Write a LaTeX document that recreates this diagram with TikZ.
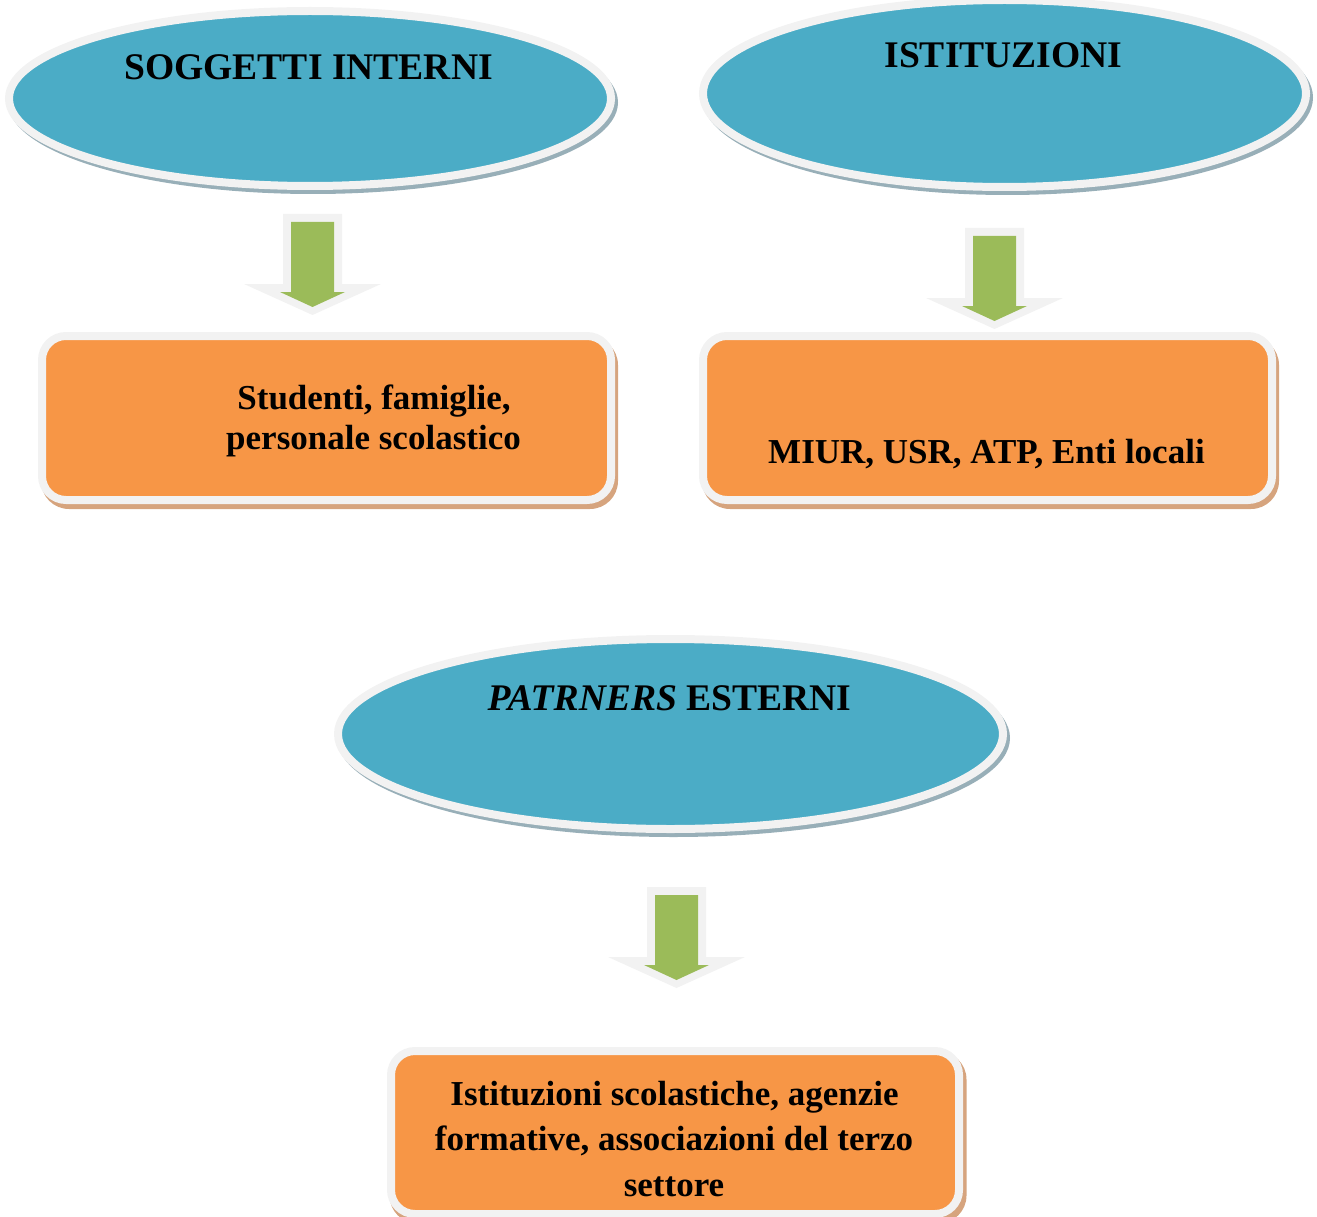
\documentclass[tikz,border=0pt]{standalone}
\usepackage{fontspec}
\setmainfont{Liberation Serif}
\usetikzlibrary{shapes.geometric}
\definecolor{bluec}{HTML}{4BACC6}
\definecolor{orangec}{HTML}{F79646}
\definecolor{greenc}{HTML}{9BBB59}
\definecolor{glowc}{HTML}{F2F2F2}
\definecolor{eshadow}{HTML}{98AFB8}
\definecolor{bshadow}{HTML}{D6A47E}
\tikzset{
 oval/.style={ellipse, fill=bluec, draw=glowc, line width=8pt, inner sep=0pt, outer sep=0pt},
 ovalshadow/.style={ellipse, fill=eshadow, inner sep=0pt, outer sep=0pt},
 box/.style={rectangle, rounded corners=24pt, fill=orangec, draw=glowc, line width=8pt, inner sep=0pt, outer sep=0pt, minimum width=569pt, minimum height=164pt},
 boxshadow/.style={rectangle, rounded corners=28pt, fill=bshadow, inner sep=0pt, outer sep=0pt, minimum width=577pt, minimum height=172pt},
 title/.style={font=\fontsize{37.6}{44}\selectfont\bfseries, inner sep=0pt, anchor=base},
 txt/.style={font=\fontsize{35}{40}\selectfont\bfseries, inner sep=0pt, anchor=base},
 glowarrow/.style={fill=glowc},
 greenarrow/.style={fill=greenc},
}
\newcommand\myblockarrow[1]{%
 \begin{scope}[shift={(#1)}]
 \fill[glowarrow] (-29.5,0) -- (29.5,0) -- (29.5,70) -- (68.5,70) -- (0,101) -- (-68.5,70) -- (-29.5,70) -- cycle;
 \fill[greenarrow] (-21.5,8) -- (21.5,8) -- (21.5,78) -- (32.5,78) -- (0,93) -- (-32.5,78) -- (-21.5,78) -- cycle;
 \end{scope}}
\begin{document}
\begin{tikzpicture}[x=1pt,y=-1pt]
\useasboundingbox (0,0) rectangle (1317,1217);
% ellipses
\node[ovalshadow, minimum width=610pt, minimum height=183pt] (e1s) at (313,102.5) {};
\node[oval, minimum width=602pt, minimum height=175pt] (e1) at (310,98.5) {};
\node[ovalshadow, minimum width=611pt, minimum height=195pt] (e2s) at (1007.5,97.5) {};
\node[oval, minimum width=603pt, minimum height=187pt] (e2) at (1004.5,93.5) {};
\node[ovalshadow, minimum width=673pt, minimum height=198pt] (e3s) at (673.5,738) {};
\node[oval, minimum width=665pt, minimum height=190pt] (e3) at (670.5,734) {};
\node[title] (t1) at (308.5,80) {SOGGETTI INTERNI};
\node[title] (t2) at (1003.5,67.5) {ISTITUZIONI};
\node[title] (t3) at (669.5,710.5) {\textit{PATRNERS} ESTERNI};
% arrows
\coordinate (a1) at (312.5,214);
\coordinate (a2) at (994.5,228);
\coordinate (a3) at (676.5,887);
\myblockarrow{a1}
\myblockarrow{a2}
\myblockarrow{a3}
% boxes
\node[boxshadow] (b1s) at (329.5,423) {};
\node[box] (b1) at (326.5,418) {};
\node[boxshadow] (b2s) at (990.5,423) {};
\node[box] (b2) at (987.5,418) {};
\node[boxshadow] (b3s) at (678,1137.5) {};
\node[box, minimum width=568pt, minimum height=163pt] (b3) at (675,1132.5) {};
\node[txt] (l1a) at (374,409) {Studenti, famiglie,};
\node[txt] (l1b) at (373.5,449) {personale scolastico};
\node[txt] (l2) at (986.5,463) {MIUR, USR, ATP, Enti locali};
\node[txt] (l3a) at (674.5,1105) {Istituzioni scolastiche, agenzie};
\node[txt] (l3b) at (674,1150) {formative, associazioni del terzo};
\node[txt] (l3c) at (674,1196) {settore};
\end{tikzpicture}
\end{document}
